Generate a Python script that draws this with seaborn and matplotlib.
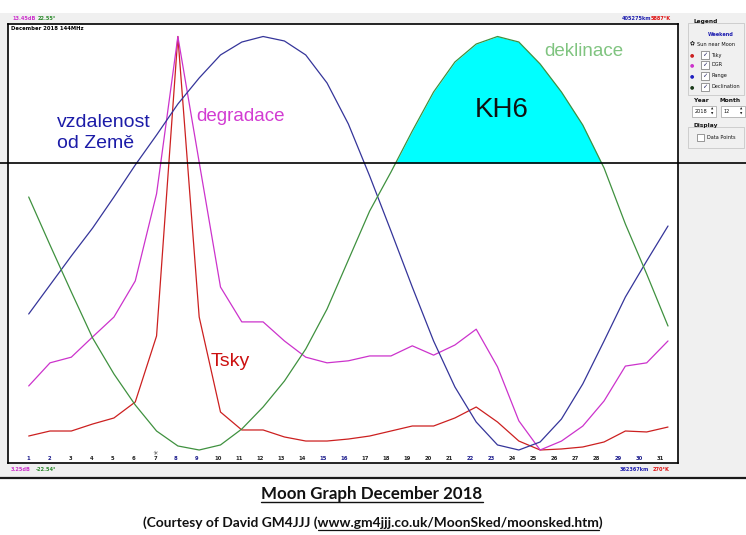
import matplotlib
matplotlib.use("Agg")
import matplotlib.pyplot as plt
import matplotlib.transforms as mtrans
from matplotlib.patches import Rectangle
from matplotlib.lines import Line2D
import numpy as np
import pandas as pd
import seaborn as sns

# ---------------- data ----------------
days = list(range(1, 32))
weekend_days = [1, 2, 8, 9, 15, 16, 22, 23, 29, 30]
sun_near_moon_day = 7

range_km = [376480, 379490, 382500, 385400, 388620, 391940, 395050, 398270, 400970, 403360,
            404700, 405275, 404810, 403360, 400450, 396200, 390800, 385090, 379280, 373680,
            368910, 365270, 362890, 362367, 363200, 365580, 369220, 373680, 378240, 381980, 385610]
declination_deg = [5.05, -0.19, -5.31, -10.33, -14.25, -17.63, -20.47, -22.10, -22.54, -21.99,
                   -20.25, -17.85, -15.02, -11.53, -7.17, -1.82, 3.52, 7.77, 12.24, 16.50,
                   19.77, 21.73, 22.55, 21.95, 19.55, 16.50, 12.90, 8.21, 2.10, -3.35, -9.02]
degradation_db = [4.83, 5.40, 5.54, 6.04, 6.53, 7.42, 9.57, 13.45, 10.35, 7.27,
                  6.41, 6.41, 5.94, 5.54, 5.40, 5.45, 5.57, 5.57, 5.82, 5.59,
                  5.84, 6.23, 5.30, 3.97, 3.25, 3.47, 3.84, 4.46, 5.32, 5.40, 5.94]
tsky_k = [460, 528, 528, 623, 705, 922, 1819, 5887, 2077, 786,
          542, 542, 447, 392, 392, 419, 460, 528, 596, 596,
          705, 854, 650, 392, 270, 284, 311, 379, 528, 515, 582]

range_lim = (362367, 405275)
decl_lim = (-22.54, 22.55)
dgr_lim = (3.25, 13.45)
tsky_lim = (270, 5887)

top_labels = ["13.45dB", "22.55°", "405275km", "5887°K"]
bottom_labels = ["3.25dB", "-22.54°", "362367km", "270°K"]
tick_labels = [str(d) for d in days]

# ---------------- helpers ----------------
W, H = 746, 535
def fx(px):
    return px / W
def fy(py):
    return 1 - py / H

def norm(vals, lim):
    lo, hi = lim
    return [(v - lo) / (hi - lo) for v in vals]

sns.set_style("white")
plt.rcParams['font.family'] = ['Liberation Sans', 'DejaVu Sans']

C_RANGE = '#35359a'
C_DECL = '#3f913f'
C_DGR = '#cc33cc'
C_TSKY = '#cc2020'

df = pd.DataFrame({
    'day': days * 4,
    'level': norm(tsky_k, tsky_lim) + norm(degradation_db, dgr_lim)
             + norm(range_km, range_lim) + norm(declination_deg, decl_lim),
    'series': ['Tsky'] * 31 + ['DGR'] * 31 + ['Range'] * 31 + ['Declination'] * 31,
})
palette = {'Tsky': C_TSKY, 'DGR': C_DGR, 'Range': C_RANGE, 'Declination': C_DECL}

fig = plt.figure(figsize=(7.46, 5.35), dpi=100)
fig.patch.set_facecolor('white')

# screenshot grey window background
fig.patches.append(Rectangle((0, fy(477)), 1, fy(13) - fy(477), transform=fig.transFigure,
                             facecolor='#f0f0f0', edgecolor='none', zorder=-5))
fig.lines.append(Line2D([0, 1], [fy(477.5)] * 2, transform=fig.transFigure,
                        color='#1a1a1a', lw=1.6, zorder=1))

ax = fig.add_axes([fx(8), fy(463), fx(678) - fx(8), fy(24) - fy(463)])
ax.set_zorder(2)
ax.set_facecolor('white')
for s in ax.spines.values():
    s.set_color('black')
    s.set_linewidth(1.2)
    s.set_visible(True)

step = 21.31  # px per data point
ax.set_xlim(1 - (28.7 - 8) / step, 1 + (678 - 28.7) / step)
ax.set_ylim((450 - 463) / 413.5, (450 - 24) / 413.5)

sns.lineplot(data=df, x='day', y='level', hue='series', palette=palette,
             legend=False, ax=ax, linewidth=0.9, zorder=3)
ax.set_xticks([])
ax.set_yticks([])
ax.set_xlabel('')
ax.set_ylabel('')
ax.set_xlim(1 - (28.7 - 8) / step, 1 + (678 - 28.7) / step)
ax.set_ylim((450 - 463) / 413.5, (450 - 24) / 413.5)

# cyan fill above the horizontal reference line
line_level = (450 - 163) / 413.5
decl_n = np.array(norm(declination_deg, decl_lim))
ax.fill_between(days, decl_n, line_level, where=decl_n >= line_level, interpolate=True,
                color='#00ffff', lw=0, zorder=1)

# horizontal black line through the whole screenshot
fig.lines.append(Line2D([0, 1], [fy(163)] * 2, transform=fig.transFigure,
                        color='black', lw=1.2, zorder=10))

# day labels inside the plot bottom
trans = mtrans.blended_transform_factory(ax.transData, fig.transFigure)
tick_step = 21.04 / step
for d, lab in zip(days, tick_labels):
    col = '#1c1c8c' if d in weekend_days else '#222222'
    ax.text(1 + (d - 1) * tick_step, fy(459), lab, fontsize=3.8, fontweight='bold',
            color=col, ha='center', va='center', transform=trans, family='DejaVu Sans')
ax.text(1 + (sun_near_moon_day - 1) * tick_step, fy(453), '☼', fontsize=4.5,
        color='#222222', ha='center', va='center', transform=trans, family='DejaVu Sans')

ax.text(fx(11), fy(28.5), 'December 2018 144MHz', fontsize=3.8, fontweight='bold',
        color='black', va='center', ha='left', family='DejaVu Sans', transform=fig.transFigure)

# corner range labels
small = dict(fontsize=3.6, fontweight='bold', va='center', ha='center', family='DejaVu Sans')
fig.text(fx(24), fy(18.5), top_labels[0], color=C_DGR, **small)
fig.text(fx(47), fy(18.5), top_labels[1], color='#2e8b2e', **small)
fig.text(fx(636), fy(18.5), top_labels[2], color='#2020b0', **small)
fig.text(fx(661), fy(18.5), top_labels[3], color='#e01010', **small)
fig.text(fx(21), fy(469.5), bottom_labels[0], color=C_DGR, **small)
fig.text(fx(46), fy(469.5), bottom_labels[1], color='#2e8b2e', **small)
fig.text(fx(634), fy(469.5), bottom_labels[2], color='#2020b0', **small)
fig.text(fx(661), fy(469.5), bottom_labels[3], color='#e01010', **small)

# big annotations (drawn in the axes so they sit above the plot background)
ft = fig.transFigure
ax.text(fx(57), fy(127), 'vzdalenost', fontsize=14, color='#1c1ca8', va='baseline', ha='left', transform=ft)
ax.text(fx(57), fy(148.5), 'od Země', fontsize=14, color='#1c1ca8', va='baseline', ha='left', transform=ft)
ax.text(fx(196), fy(121), 'degradace', fontsize=13.5, color='#d23cd2', va='baseline', ha='left', transform=ft)
ax.text(fx(211), fy(366), 'Tsky', fontsize=14, color='#cc1010', va='baseline', ha='left', transform=ft)
ax.text(fx(475), fy(117), 'KH6', fontsize=20, color='#111111', va='baseline', ha='left', transform=ft)
ax.text(fx(544), fy(56), 'deklinace', fontsize=13.5, color='#80c480', va='baseline', ha='left', transform=ft)

# right-hand control panel
tiny = dict(fontsize=3.6, va='center', ha='left', family='DejaVu Sans', color='#111111')
def box(x0, y0, x1, y1, fc='none', ec='#c8c8c8', lw=0.6):
    fig.patches.append(Rectangle((fx(x0), fy(y1)), fx(x1) - fx(x0), fy(y0) - fy(y1),
                                 transform=fig.transFigure, facecolor=fc, edgecolor=ec,
                                 lw=lw, zorder=2))
box(688, 23, 744, 95)
box(688, 127, 744, 148)
fig.text(fx(693), fy(22), 'Legend', fontweight='bold', **{**tiny, 'fontsize': 4.2})
fig.text(fx(708), fy(34), 'Weekend', fontweight='bold', **{**tiny, 'color': '#1c1cb0'})
fig.text(fx(692), fy(44), '✿', **{**tiny, 'ha': 'center', 'fontsize': 4.2})
fig.text(fx(697), fy(44), 'Sun near Moon', **tiny)
legend_rows = [('Tsky', C_TSKY, 55), ('DGR', C_DGR, 65), ('Range', '#2020c0', 76),
               ('Declination', '#1a3a1a', 87)]
for name, col, yy in legend_rows:
    fig.text(fx(692), fy(yy), '●', **{**tiny, 'color': col, 'ha': 'center', 'fontsize': 3.6})
    box(701, yy - 4, 709, yy + 4, fc='white', ec='#707070', lw=0.5)
    fig.text(fx(705), fy(yy), '✓', **{**tiny, 'ha': 'center', 'fontsize': 4.5, 'color': '#202060'})
    fig.text(fx(711), fy(yy), name, **tiny)
fig.text(fx(694), fy(101), 'Year', fontweight='bold', **{**tiny, 'fontsize': 4.2})
fig.text(fx(719), fy(101), 'Month', fontweight='bold', **{**tiny, 'fontsize': 4.2})
box(692, 106, 716, 117, fc='white', ec='#a0a0a0', lw=0.5)
box(721, 106, 745, 117, fc='white', ec='#a0a0a0', lw=0.5)
fig.text(fx(695), fy(111.5), '2018', **tiny)
fig.text(fx(724), fy(111.5), '12', **tiny)
for xa in (712, 741):
    fig.text(fx(xa), fy(109), '▲', **{**tiny, 'ha': 'center', 'fontsize': 2.2})
    fig.text(fx(xa), fy(114), '▼', **{**tiny, 'ha': 'center', 'fontsize': 2.2})
fig.text(fx(693), fy(126), 'Display', fontweight='bold', **{**tiny, 'fontsize': 4.2})
box(697, 134, 704, 141, fc='white', ec='#707070', lw=0.5)
fig.text(fx(707), fy(137.5), 'Data Points', **tiny)

# captions
renderer = fig.canvas.get_renderer()

def fit_text(t, target_px):
    for _ in range(3):
        bb = t.get_window_extent(renderer)
        t.set_fontsize(t.get_fontsize() * target_px / bb.width)

cap_font = ['Lato', 'DejaVu Sans']
t1 = fig.text(fx(372), fy(498.5), 'Moon Graph December 2018', fontsize=12, fontweight='bold',
              family=cap_font, ha='center', va='baseline', color='#111111')
fit_text(t1, 220)
bb1 = t1.get_window_extent(renderer)
fig.lines.append(Line2D([bb1.x0 / W, bb1.x1 / W], [fy(501.5)] * 2, transform=fig.transFigure,
                        color='#111111', lw=1.0))

pre = '(Courtesy of David GM4JJJ ('
url = 'www.gm4jjj.co.uk/MoonSked/moonsked.htm'
full = pre + url + ')'
t2 = fig.text(fx(373), fy(527), full, fontsize=9, fontweight='bold', family=cap_font,
              ha='center', va='baseline', color='#111111')
fit_text(t2, 460)
bb2 = t2.get_window_extent(renderer)
tmp = fig.text(0, 0, pre, fontsize=t2.get_fontsize(), fontweight='bold', family=cap_font)
w_pre = tmp.get_window_extent(renderer).width
tmp.set_text(pre + url)
w_pu = tmp.get_window_extent(renderer).width
tmp.remove()
fig.lines.append(Line2D([(bb2.x0 + w_pre) / W, (bb2.x0 + w_pu) / W], [fy(529.5)] * 2,
                        transform=fig.transFigure, color='#111111', lw=0.9))

fig.savefig('out.png', dpi=100, facecolor='white')
